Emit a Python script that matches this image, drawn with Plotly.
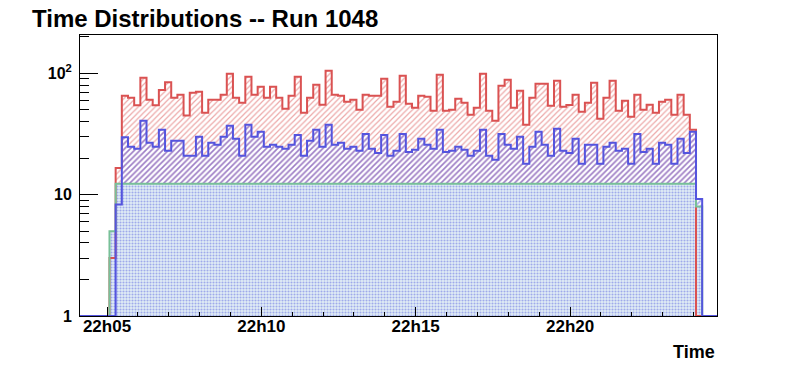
import plotly.graph_objects as go

# ---- data (counts per 12 s bin, minutes after 22h00) ----
bin_start = 5.08          # left edge of first bin (minutes after 22h00)
bin_width = 0.2           # 12 s
x_min, x_max = 4.125, 24.76

red_counts = [3, 16.6,
    65.3, 62.9, 54.5, 92, 60.5, 54.5, 72.8, 84.3, 62.9, 66.6, 45, 69.2, 70.5, 47.3, 60.5, 60.5, 66.6, 99.3,
    62.9, 57.2, 93.7, 66.6, 77.5, 62.9, 77.5, 62.9, 51, 65.3, 93.7, 47.3, 62.9, 80.5, 55.1, 105, 66.6, 65.3,
    58.3, 60.5, 50.1, 66.6, 65.3, 65.3, 90.2, 53, 58.3, 95.5, 56.1, 52, 65.3, 64.1, 49.1, 97.3, 49.1, 50.1,
    61.7, 57.2, 45.5, 52, 99.3, 49.1, 40.6, 79, 88.5, 52, 71.8, 37.7, 62.9, 82, 82, 54, 86.9, 53, 54.8, 66.6,
    48.2, 57.2, 83.6, 42.2, 62.9, 86.9, 49.1, 59.4, 43.9, 66.6, 50.1, 55.1, 47.3, 58.3, 60.5, 45.5, 66.6,
    45.5, 34.3,
    0]

blue_counts = [0, 8.3,
    29.8, 24.8, 23.9, 40.6, 26.8, 24.8, 34.3, 23, 27.8, 27.8, 20.9, 20.9, 30, 20.9, 26.8, 25.8, 30, 37,
    28.9, 20.9, 37.7, 30, 33, 24.8, 25.8, 24.8, 23.9, 25.8, 31.1, 20.9, 27.8, 34.3, 24.8, 37.7, 25.8, 26.8,
    23.9, 24.8, 23, 31.7, 23.9, 22.1, 31.1, 20.9, 23, 31.7, 22.5, 23.4, 28.9, 25.8, 23.9, 34.3, 22.5, 23,
    24.8, 23.4, 20.9, 23, 34.3, 20.9, 19.4, 31.7, 25.8, 23.9, 30, 18, 24.8, 33, 25.8, 20.9, 34.9, 23, 22.1,
    28.9, 18, 25.8, 25.8, 18, 24.8, 26.8, 23, 23.9, 18, 31.7, 22.5, 23.9, 18, 26.8, 25.8, 18, 28.9, 22.1,
    33,
    9.2]

green_counts = [5,
    12.3, 12.3, 12.3, 12.3, 12.3, 12.3, 12.3, 12.3, 12.3, 12.3, 12.3, 12.3, 12.3, 12.3, 12.3, 12.3, 12.3, 12.3,
    12.3, 12.3, 12.3, 12.3, 12.3, 12.3, 12.3, 12.3, 12.3, 12.3, 12.3, 12.3, 12.3, 12.3, 12.3, 12.3, 12.3, 12.3,
    12.3, 12.3, 12.3, 12.3, 12.3, 12.3, 12.3, 12.3, 12.3, 12.3, 12.3, 12.3, 12.3, 12.3, 12.3, 12.3, 12.3, 12.3,
    12.3, 12.3, 12.3, 12.3, 12.3, 12.3, 12.3, 12.3, 12.3, 12.3, 12.3, 12.3, 12.3, 12.3, 12.3, 12.3, 12.3, 12.3,
    12.3, 12.3, 12.3, 12.3, 12.3, 12.3, 12.3, 12.3, 12.3, 12.3, 12.3, 12.3, 12.3, 12.3, 12.3, 12.3, 12.3, 12.3,
    12.3, 12.3, 12.3, 12.3,
    8]

x_tick_vals = [5, 10, 15, 20]
x_tick_text = ["22h05", "22h10", "22h15", "22h20"]
x_minor_vals = [6, 7, 8, 9, 11, 12, 13, 14, 16, 17, 18, 19, 21, 22, 23, 24]
y_tick_vals = [1, 10, 100]
y_tick_text = ["1", "10", "10<sup>2</sup>"]
y_minor_vals = [2, 3, 4, 5, 6, 7, 8, 9, 20, 30, 40, 50, 60, 70, 80, 90, 200]

y_floor = 1  # bottom of the log axis; empty bins are drawn there

RED = "rgb(218,82,82)"
BLUE = "rgb(84,84,222)"
GREEN = "rgb(120,192,152)"


def step_xy(counts):
    xs = [x_min]
    ys = [y_floor]
    for k, c in enumerate(counts):
        xs.append(bin_start + k * bin_width)
        ys.append(c if c > y_floor else y_floor)
    xs.append(bin_start + len(counts) * bin_width)
    ys.append(y_floor)
    xs.append(x_max)
    ys.append(y_floor)
    return xs, ys


fig = go.Figure()

fills = [
    (red_counts, dict(shape="/", fgcolor=RED, bgcolor="rgba(255,255,255,0)", size=4, solidity=0.3)),
    (blue_counts, dict(shape="/", fgcolor=BLUE, bgcolor="rgba(255,255,255,0)", size=4, solidity=0.45)),
    (green_counts, dict(shape=".", fgcolor="rgb(92,102,226)", bgcolor="rgb(226,238,244)", size=3, solidity=0.4)),
]
for counts, pat in fills:
    xs, ys = step_xy(counts)
    fig.add_trace(go.Scatter(
        x=xs, y=ys, mode="lines", line=dict(shape="hv", width=0),
        fill="tozeroy", fillcolor="rgba(255,255,255,0)",
        fillpattern=dict(fillmode="overlay", **pat),
        hoverinfo="skip", showlegend=False))

for counts, col in [(red_counts, RED), (green_counts, GREEN), (blue_counts, BLUE)]:
    xs, ys = step_xy(counts)
    fig.add_trace(go.Scatter(
        x=xs, y=ys, mode="lines", line=dict(shape="hv", width=2, color=col),
        hoverinfo="skip", showlegend=False))

# the page body adds an 8 px offset, so the figure is drawn 8 px smaller
fig.update_layout(
    width=788, height=364,
    margin=dict(l=72, r=79, t=27, b=56),
    paper_bgcolor="white", plot_bgcolor="white",
    font=dict(family="Liberation Sans, Arial, sans-serif", color="black"),
    title=dict(text="Time Distributions -- Run 1048", x=24 / 788, xanchor="left",
               xref="container", y=1 - 11 / 364, yanchor="middle", yref="container",
               font=dict(size=24, weight="bold", color="black")),
    xaxis=dict(range=[x_min, x_max], showgrid=False, zeroline=False,
               showline=True, linecolor="black", linewidth=1, mirror=True,
               tickmode="array", tickvals=x_tick_vals, ticktext=x_tick_text,
               ticks="inside", ticklen=9, tickcolor="black", tickwidth=1,
               ticklabelstandoff=-5,
               tickfont=dict(size=17, weight="bold", color="black"),
               minor=dict(tickmode="array", tickvals=x_minor_vals, ticks="inside",
                          ticklen=4, tickcolor="black", tickwidth=1)),
    yaxis=dict(type="log", range=[0, 2.316], showgrid=False, zeroline=False,
               showline=True, linecolor="black", linewidth=1, mirror=True,
               tickmode="array", tickvals=y_tick_vals, ticktext=y_tick_text,
               ticks="inside", ticklen=18, tickcolor="black", tickwidth=1,
               ticklabelstandoff=4,
               tickfont=dict(size=16, weight="bold", color="black"),
               minor=dict(tickmode="array", tickvals=y_minor_vals, ticks="inside",
                          ticklen=9, tickcolor="black", tickwidth=1)),
    annotations=[dict(text="Time", xref="paper", yref="paper", x=1, y=-(352 - 316) / 281,
                      xanchor="right", yanchor="middle", showarrow=False,
                      font=dict(size=18, weight="bold", color="black"))],
)

fig.write_html("out.html")
